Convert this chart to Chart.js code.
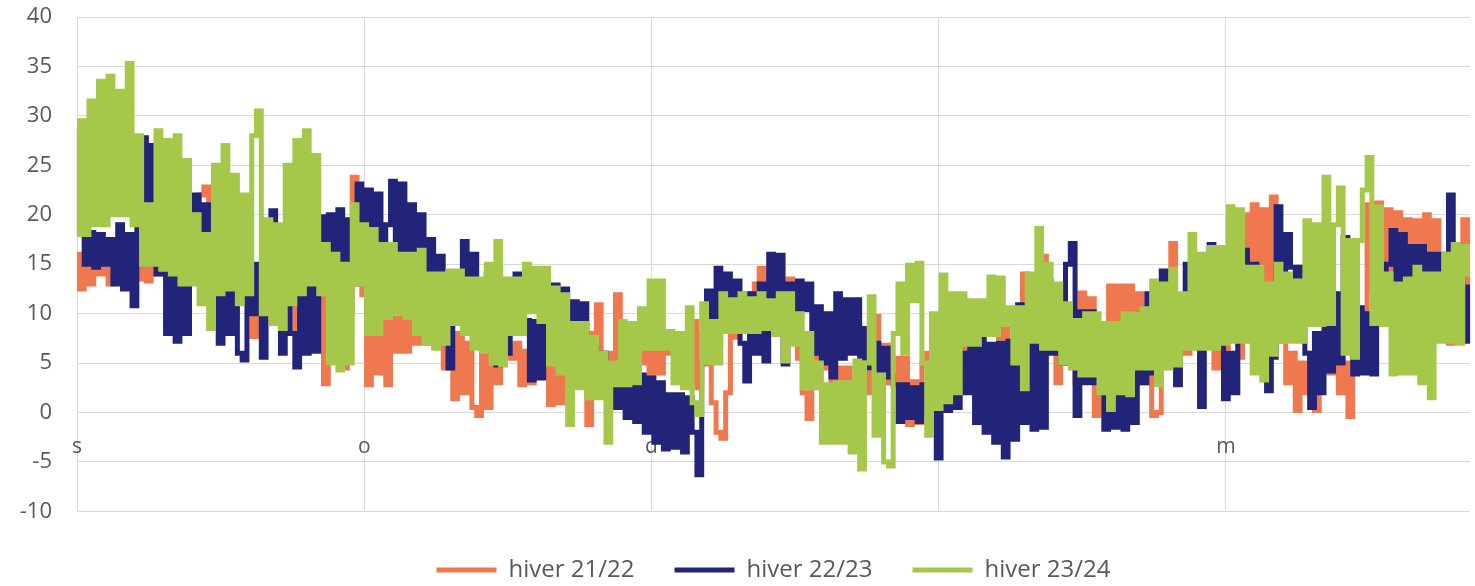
<!DOCTYPE html>
<html>
<head>
<meta charset="utf-8">
<script src="https://cdn.jsdelivr.net/npm/chart.js@4/dist/chart.umd.min.js"></script>
<style>
  html, body { margin: 0; padding: 0; background: #ffffff; }
  #wrap { width: 1475px; height: 586px; }
</style>
</head>
<body>
<div id="wrap"><canvas id="c" width="1475" height="586"></canvas></div>
<script>
// ---- data ----
const seriesNames = ['hiver 21/22', 'hiver 22/23', 'hiver 23/24'];
const tickLetters = ['s', 'o', 'd', 'j', 'm'];
const pointsPerTick = 60;
const yTicks = { min: -10, max: 40, step: 5 };

const hiver2122 = [
  16, 12.5, 15, 13, 16, 14, 15.5, 13, 16, 13.5,
  17, 14, 16, 13.5, 16.5, 13.3, 18, 14, 19, 14,
  20, 15, 22.5, 15, 18, 16, 22, 22.8, 18, 16,
  17, 14, 16.5, 9.5, 16, 12, 11, 7.7, 14, 10,
  15, 9, 16, 10, 15, 11, 8.5, 14, 11, 16,
  9, 11.9, 2.9, 12, 6, 10.3, 4.5, 10, 23.8, 16,
  11.9, 2.8, 11, 4, 10.3, 2.8, 10.3, 6.2, 10, 6.2,
  11.3, 7, 11, 7, 9.6, 7, 9, 4.5, 6.2, 1.4,
  8, 2, 7, 0.5, -0.3, 6, 0.5, 6.5, 3, 7,
  6.5, 5.5, 7, 2.8, 6.2, 3, 8, 4, 6.6, 0.8,
  6.6, 1, 5, 2, 6, 2.9, 5, -1.2, 8, 10.9,
  4.2, 6, 2.1, 11.9, 4, 8, 6.5, 8.5, 5, 8.4,
  3.6, 8, 4, 7, 6, 7.5, 5.5, 7, 3, 9.2,
  2.5, 8, 4.9, 1, -2, -2.6, 2, 9.2, 7.6, 9,
  12, 11, 13, 14.6, 12, 14.3, 11.3, 13, 10, 13.5,
  9, 5.5, 2, -0.6, 3, 7.9, 4.5, 6, 3, 4.5,
  -0.9, 4.5, -0.5, 3, 1, 4, 2, 9.7, 4, 6.8,
  3, 5.5, 3.1, 5.5, -1.2, 3.1, -1, 5, 6, 9,
  5, 8, 4, 6.5, 2.8, 11, 3, 7.9, 1, 7,
  10.9, 8, 9.4, 7.5, 9, 6, 4.2, -0.6, 14, 6,
  12, 8, 15.8, 8, 12, 3, 8.6, 5, 9, 3,
  12.1, 9.5, 11.5, -0.3, 9, 3, 12.8, 9, 12.8, 8,
  12.8, 5, 12, 3, 8, -0.3, 0, 10, 6, 17.1,
  3, 9.4, 6, 10, 7, 11, 7, 10, 4.5, 9,
  6.5, 9, 7.5, 5.6, 20, 12.3, 21, 12.3, 20.5, 13,
  21.8, 12.3, 7.2, 3, 6, 0.2, 5, 2, 6, 0.2,
  5, 7, 4, 7.2, 2, 5, -0.4, 7, 5, 10,
  21, 12.3, 21.2, 12.3, 20.5, 12, 20.2, 12.3, 19.5, 12.3,
  19.4, 12.3, 20, 12.3, 19.4, 8, 12, 7, 17, 7.2,
  19.5, 8
];

const hiver2223 = [
  18, 28.5, 15, 18.2, 14.7, 18, 15, 17.5, 13, 19,
  12.5, 18, 10.8, 20, 27.8, 21, 27, 14, 17.6, 8,
  17, 7.2, 16.5, 8, 17, 22, 17.8, 21, 14, 15,
  7, 14, 8, 13, 6, 5.3, 12, 10, 15, 5.6,
  14, 20.4, 12, 6, 14, 8, 4.6, 13, 6, 14.6,
  6.2, 19.8, 13.3, 20, 14.4, 20.5, 14.4, 19.5, 13, 23.1,
  16.4, 22.5, 15, 22.1, 15.5, 19, 23.4, 15, 23.1, 15,
  21, 16, 20, 13, 17.5, 11.3, 15.8, 10.3, 4.5, 9,
  14, 17.3, 11.6, 16, 11.6, 12, 14, 11.3, 4.8, 9,
  6, 13, 14, 11, 9.3, 3.3, 9.2, 3.5, 9, 6,
  12.9, 8.6, 12.5, 8.6, 11.2, 8, 11, 5, 6.5, 3.5,
  6, 3.2, 4, 0.5, 3.8, -0.5, 3.5, -0.9, 3.8, -2,
  3.5, -3, 3, -3.7, 1.8, -3.5, 1.8, -4, 1.5, -2,
  -6.3, 5, 12.3, 9, 14.6, 9.2, 14, 9.5, 13.3, 7,
  3.2, 12, 6, 13, 5.2, 16, 10, 15.9, 4.9, 13,
  10.4, 13.3, 10.4, 13, 6, 10.7, 5, 10, 3.6, 12,
  5.5, 11.4, 6, 11.4, 5.5, 8.5, 4.5, 7, 3.6, 6.5,
  3.6, 2.8, -0.9, 2.8, -0.5, 2.5, -0.9, 2.8, 0, 8.5,
  -4.6, 6, 0.2, 6.9, 0.5, 6, 2, 7.9, -1, 7.5,
  -2, 6.9, -3, 7, -4.5, 7.2, -2.7, 10.9, -1, 10,
  -1.7, 8.6, -1.5, 13.3, 6, 12, 5, 15, 17.1, -0.3,
  10.2, 3, 10.2, 3, 4.5, -1.7, 4, -1.5, 4.5, -1.7,
  3, -1, 10, 3, 12, 4, 13, 14.3, 5, 12,
  2.8, 11, 15, 9.4, 13, 0.6, 12, 17, 9, 14,
  1.4, 6, 2, 10, 16.4, 12.3, 15, 12.3, 5.6, 2.2,
  5.6, 20.8, 11.3, 18, 14.7, 11.3, 14.7, 6, 0.5, 8,
  2, 14, 4.2, 12, 5, 17.7, 10.6, 3.9, 10.6, 4,
  10, 3.9, 15, 10, 15, 18.4, 10, 18, 10, 16.8,
  10, 16.8, 10.5, 16, 10, 16, 8.9, 22, 9, 16,
  7.2, 12.7
];

const hiver2324 = [
  18, 29.5, 18, 31.5, 19, 33.5, 19, 34, 20, 32.5,
  20, 35.3, 19, 28, 15, 21, 15, 28.5, 14.5, 27.5,
  14, 28, 13, 25.5, 13, 20, 11, 18, 8.5, 25,
  12, 27, 12.5, 24, 11, 22, 12, 28, 30.5, 10,
  19.5, 9, 19, 8.5, 25, 11, 27.5, 12, 28.5, 13,
  26, 12, 17, 5, 16, 4.3, 15, 5, 21, 13,
  19, 8, 18.5, 8, 17, 9.6, 17, 10, 16, 9.6,
  16, 8, 16.4, 7, 14, 6.5, 14, 7, 14.3, 9,
  14.3, 8, 13.5, 6.5, 13.5, 6.2, 15, 5, 17.3, 4.8,
  13.5, 8, 13.5, 8, 15, 10.2, 14.6, 9.2, 14.6, 4.9,
  12.6, 4, 11.9, -1.2, 9, 2.5, 9, 1.5, 7.6, 1.5,
  6, -3, 5, 2.8, 9.2, 2.8, 9, 3, 10.5, 6.5,
  13.3, 6.5, 13.3, 6.5, 8.2, 3, 8, 2.5, 10.6, 1,
  -0.2, 11, 5, 9.2, 5, 12, 8.2, 11.4, 8.2, 12,
  8.2, 11.5, 8.2, 12, 8.5, 11.3, 7.9, 12, 5.2, 12,
  6.9, 10, 2.5, 8, 2.5, 5, -3, 2.8, -3, 3,
  -3, 3, -4, 5.2, -5.7, 5, 11.7, -2.3, 3.8, -5,
  -5.4, 8, 13, 6, 14.9, 11.3, 15.1, 5, -2.3, 10,
  0.4, 13.9, 1.1, 12, 2, 12, 6.9, 11.3, 6.9, 11.3,
  7.9, 13.7, 7.9, 13.6, 8.9, 10.6, 5, 10.6, 2.4, 14,
  7.2, 18.6, 6.5, 15, 6.5, 13, 5, 11, 4.5, 9.3,
  3.8, 10, 3.8, 10, 2, 9, 0.3, 9, 2, 10,
  1.8, 10, 4.5, 10.5, 4.5, 13.3, 2.8, 13, 4.5, 14.5,
  4.8, 12, 6.5, 18, 6.5, 16, 6.5, 16.7, 6.5, 16.7,
  7, 20.8, 7.2, 20.5, 7.2, 14.7, 4, 14.7, 3.3, 13,
  5.9, 15, 7.2, 14, 7.2, 13.3, 7.2, 19.4, 8.9, 19,
  8.9, 23.8, 9, 19, 22.7, 6, 17.4, 5.6, 17.4, 22.5,
  25.8, 9, 20.8, 8.9, 14, 3.9, 13, 4, 13.5, 4,
  14.7, 3, 14, 1.5, 14, 7.2, 16, 7.2, 17, 7,
  16.8, 14
];

// ---- derived tables ----
const pointCount = hiver2122.length;
const categories = Array.from({ length: pointCount }, (_, i) =>
  i % pointsPerTick === 0 && tickLetters[i / pointsPerTick] ? tickLetters[i / pointsPerTick] : '');

const colors = ['#F0784E', '#22247A', '#A5C84B'];
const gridColor = '#D9D9D9';
const textColor = '#595959';
const fontFamily = "'Open Sans', 'Liberation Sans', sans-serif";

function lineDataset(label, data, color, order) {
  return {
    label, data,
    borderColor: color, backgroundColor: color,
    borderWidth: 5, pointRadius: 0, pointHoverRadius: 0,
    stepped: 'middle', fill: false, borderJoinStyle: 'miter', borderCapStyle: 'butt',
    order
  };
}

const chart = new Chart(document.getElementById('c'), {
  type: 'line',
  data: {
    labels: categories,
    datasets: [
      lineDataset(seriesNames[0], hiver2122, colors[0], 3),
      lineDataset(seriesNames[1], hiver2223, colors[1], 2),
      lineDataset(seriesNames[2], hiver2324, colors[2], 1)
    ]
  },
  options: {
    responsive: false,
    devicePixelRatio: 1,
    animation: false,
    events: [],
    layout: { padding: { top: 17, right: 5, bottom: -6, left: 0 } },
    scales: {
      x: {
        type: 'category',
        position: { y: 0 },
        offset: false,
        border: { display: false },
        grid: {
          drawTicks: true,
          tickLength: 22,
          tickColor: 'rgba(0,0,0,0)',
          color: (ctx) => (ctx.tick && ctx.tick.label) ? gridColor : 'rgba(0,0,0,0)',
          lineWidth: 1
        },
        ticks: {
          autoSkip: false, maxRotation: 0, minRotation: 0,
          padding: 0,
          color: textColor,
          font: { family: fontFamily, size: 21 }
        }
      },
      y: {
        min: yTicks.min, max: yTicks.max,
        border: { display: false },
        grid: { drawTicks: true, tickLength: 25, tickColor: 'rgba(0,0,0,0)', color: gridColor, lineWidth: 1 },
        ticks: {
          stepSize: yTicks.step,
          padding: 0,
          color: textColor,
          font: { family: fontFamily, size: 22 }
        },
        afterFit: (scale) => { scale.width = 77; }
      }
    },
    plugins: {
      tooltip: { enabled: false },
      legend: {
        position: 'bottom',
        fullSize: false,
        title: { display: true, text: ' ', font: { size: 1 }, padding: { top: 5.4, bottom: 0 } },
        labels: {
          boxWidth: 60, boxHeight: 5, padding: 40,
          color: textColor,
          font: { family: fontFamily, size: 24 },
          sort: (a, b) => a.datasetIndex - b.datasetIndex,
          generateLabels: (ch) => {
            const items = Chart.defaults.plugins.legend.labels.generateLabels(ch);
            items.forEach(it => { it.lineWidth = 0; it.fillStyle = it.strokeStyle; });
            return items;
          }
        }
      }
    }
  }
});
</script>
</body>
</html>
